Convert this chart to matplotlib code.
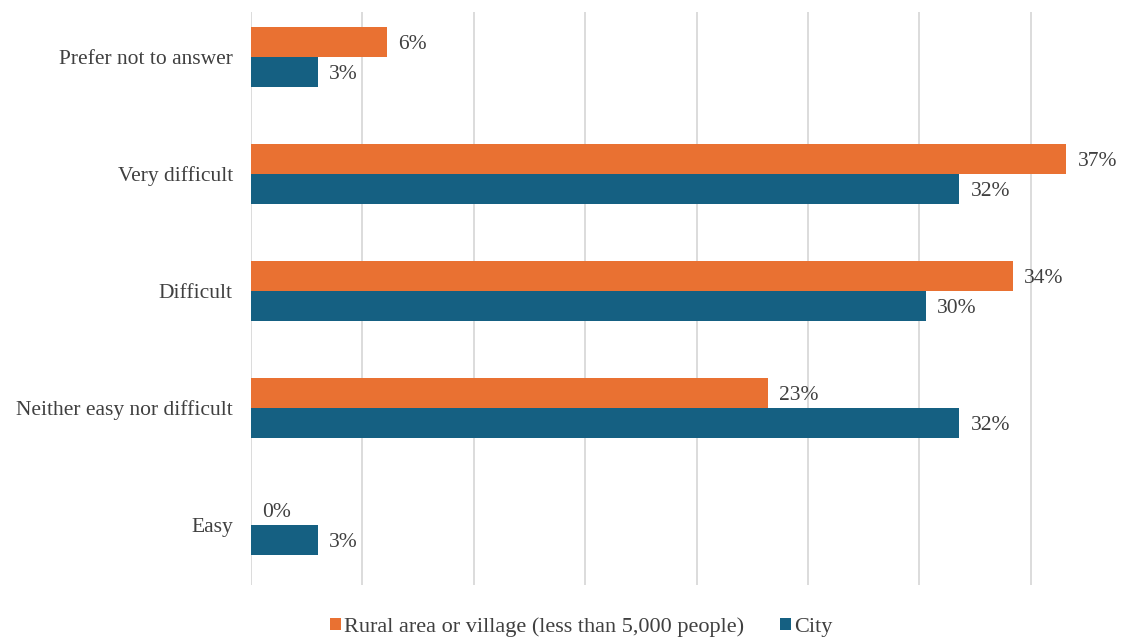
import numpy as np
import matplotlib.pyplot as plt

categories = ["Easy", "Neither easy nor difficult", "Difficult", "Very difficult", "Prefer not to answer"]
rural = [0.0, 23.2, 34.2, 36.6, 6.1]
city = [3.0, 31.8, 30.3, 31.8, 3.0]
series_names = ["Rural area or village (less than 5,000 people)", "City"]

plt.rcParams['font.family'] = ['Liberation Serif', 'DejaVu Serif']

fig = plt.figure(figsize=(11.22, 6.39), dpi=100)
W, H = 1122, 639
# axis area in pixels: left 250, right beyond edge (40% gridline off-figure), top 12, bottom 585
x0, x40 = 250.9, 250.9 + 8 * 111.4
ax = fig.add_axes([x0 / W, (H - 585) / H, (x40 - x0) / W, (585 - 12) / H])

y = np.arange(len(categories))
h = 0.256
orange = "#E97132"
blue = "#156082"

b1 = ax.barh(y + h / 2, rural, height=h, color=orange, label=series_names[0], zorder=3)
b2 = ax.barh(y - h / 2, city, height=h, color=blue, label=series_names[1], zorder=3)

for bars, vals in ((b1, rural), (b2, city)):
    for bar, v in zip(bars, vals):
        ax.annotate(f"{v:.0f}%", (v, bar.get_y() + bar.get_height() / 2),
                    xytext=(8, -2), textcoords="offset points", va="center", ha="left",
                    fontsize=15.5, color="#404040", annotation_clip=False)

ax.set_xlim(0, 40)
ax.set_ylim(-0.513, 4.385)
ax.set_xticks(np.arange(0, 41, 5))
ax.set_xticklabels([])
ax.tick_params(axis="x", length=0)
ax.set_yticks(y)
ax.set_yticklabels(categories, fontsize=15.5, color="#404040")
ax.tick_params(axis="y", length=0, pad=13)
ax.grid(axis="x", color="#D9D9D9", linewidth=1.3, zorder=0)
for s in ax.spines.values():
    s.set_visible(False)

handles = [b1, b2]
fig.legend(handles, series_names, loc="center", bbox_to_anchor=(581 / W, 1 - 627 / H),
           ncol=2, frameon=False, fontsize=16, handlelength=0.5, handleheight=0.5,
           handletextpad=0.15, columnspacing=1.6, labelcolor="#404040")

fig.savefig("out.png", dpi=100)
